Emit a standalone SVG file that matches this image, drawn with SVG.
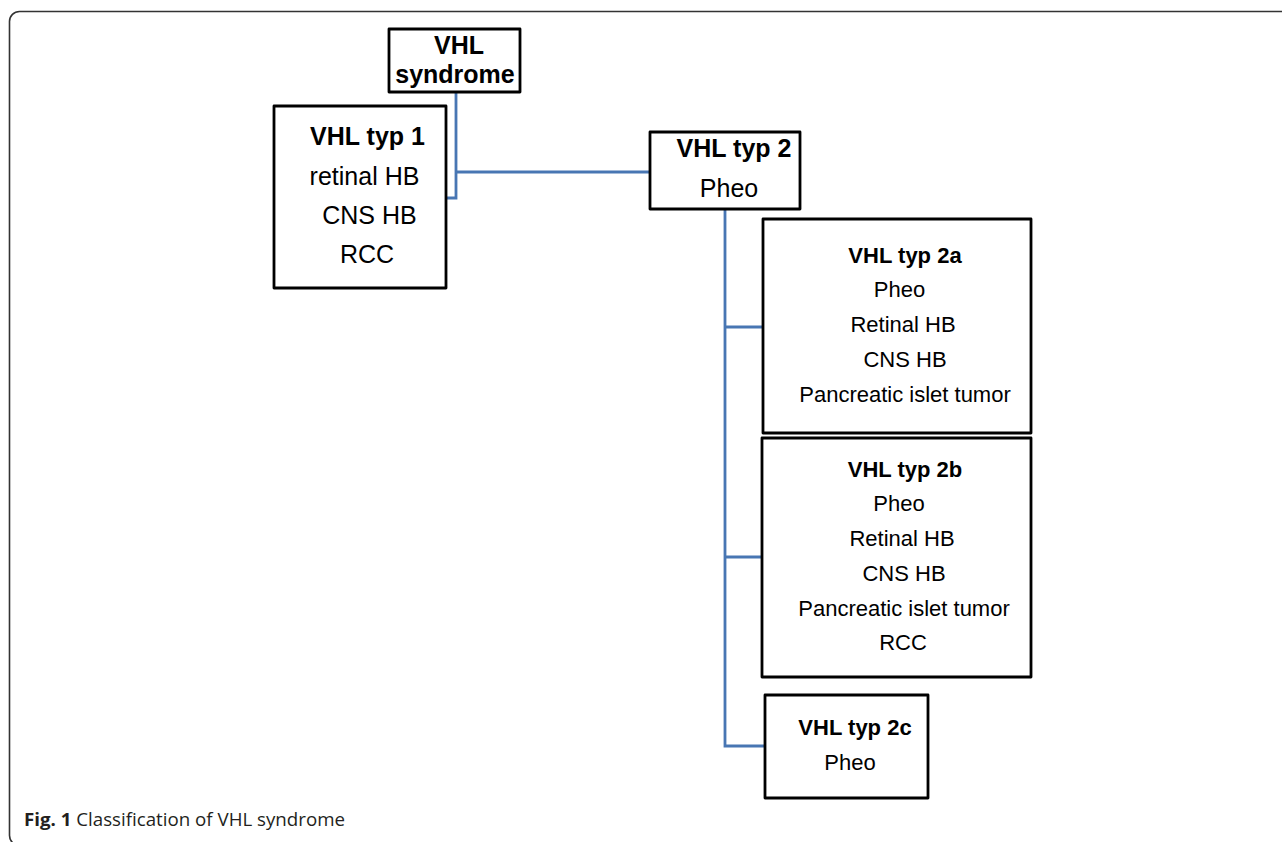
<svg xmlns="http://www.w3.org/2000/svg" width="1282" height="842" viewBox="0 0 1282 842">
<style>
.box{fill:#fff;stroke:#000;stroke-width:2.8;stroke-linejoin:round}
.t{font-family:"Liberation Sans",Arial,Helvetica,sans-serif;fill:#000;text-anchor:middle}
.b{font-weight:bold}
.l{font-size:25px}
.s{font-size:22px}
.conn{fill:none;stroke:#4876b3;stroke-width:2.8}
.cap{font-family:"Open Sans","Noto Sans",sans-serif;font-size:17.5px;fill:#231f20}
</style>
<rect x="0" y="0" width="1282" height="842" fill="#fff"/>
<rect x="9.5" y="11.5" width="1290" height="834" rx="10" ry="10" fill="none" stroke="#333" stroke-width="1.6"/>
<g id="connectors">
<polyline class="conn" points="456,92 456,198 446,198"/>
<line class="conn" x1="456" y1="172" x2="650" y2="172"/>
<polyline class="conn" points="725,209 725,746 765,746"/>
<line class="conn" x1="725" y1="327" x2="763" y2="327"/>
<line class="conn" x1="725" y1="557" x2="762" y2="557"/>
</g>
<g id="vhl-syndrome">
<rect class="box" x="389" y="29" width="131" height="63"/>
<text class="t b l" x="459" y="54">VHL</text>
<text class="t b l" x="455" y="83">syndrome</text>
</g>
<g id="vhl-typ1">
<rect class="box" x="274" y="106" width="172" height="182"/>
<text class="t b l" x="367.5" y="145">VHL typ 1</text>
<text class="t l" x="364.5" y="185">retinal HB</text>
<text class="t l" x="369.5" y="224">CNS HB</text>
<text class="t l" x="367" y="263">RCC</text>
</g>
<g id="vhl-typ2">
<rect class="box" x="650" y="132" width="150" height="77"/>
<text class="t b l" x="734" y="157">VHL typ 2</text>
<text class="t l" x="729" y="197">Pheo</text>
</g>
<g id="vhl-typ2a">
<rect class="box" x="763" y="219" width="268" height="214"/>
<text class="t b s" x="905" y="263">VHL typ 2a</text>
<text class="t s" x="899.5" y="297">Pheo</text>
<text class="t s" x="903" y="332">Retinal HB</text>
<text class="t s" x="905" y="367">CNS HB</text>
<text class="t s" x="905" y="402">Pancreatic islet tumor</text>
</g>
<g id="vhl-typ2b">
<rect class="box" x="762" y="438" width="269" height="239"/>
<text class="t b s" x="905" y="477">VHL typ 2b</text>
<text class="t s" x="899" y="511">Pheo</text>
<text class="t s" x="902" y="546">Retinal HB</text>
<text class="t s" x="904" y="581">CNS HB</text>
<text class="t s" x="904" y="616">Pancreatic islet tumor</text>
<text class="t s" x="903" y="650">RCC</text>
</g>
<g id="vhl-typ2c">
<rect class="box" x="765" y="695" width="163" height="103"/>
<text class="t b s" x="855" y="735">VHL typ 2c</text>
<text class="t s" x="850" y="770">Pheo</text>
</g>
<text class="cap" x="24" y="826" textLength="321" lengthAdjust="spacingAndGlyphs"><tspan font-weight="bold">Fig. 1</tspan> Classification of VHL syndrome</text>
</svg>
